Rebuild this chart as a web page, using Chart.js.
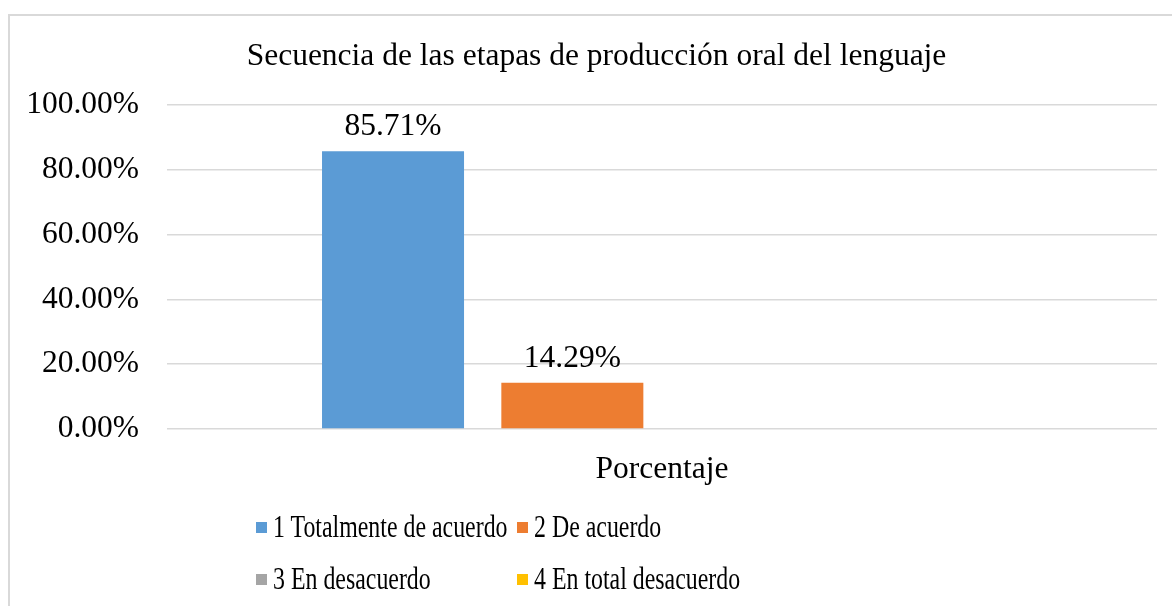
<!DOCTYPE html>
<html lang="es">
<head>
<meta charset="UTF-8">
<title>Secuencia de las etapas de producción oral del lenguaje</title>
<script src="https://cdn.jsdelivr.net/npm/chart.js"></script>
<style>
    html, body { margin: 0; padding: 0; background: #fff; }
    body { width: 1172px; height: 606px; position: relative; overflow: hidden; font-family: "Liberation Serif", "Times New Roman", serif; }
    .frame { position: absolute; left: 8px; top: 14px; width: 1200px; height: 620px; border: 2px solid #d9d9d9; box-sizing: border-box; }
    #wrap { position: absolute; left: 0; top: 0; width: 1172px; height: 606px; }
    .legend { position: absolute; left: 256px; top: 506px; display: grid; grid-template-columns: 261px 300px; row-gap: 10px; font-size: 31px; color: #000; }
    .legend div { display: flex; align-items: center; height: 42px; white-space: nowrap; }
    .legend span.box { width: 11px; height: 11px; margin-right: 6px; flex: none; }
    /* legend text is squeezed sideways in the original */
    .legend span.txt { display: inline-block; transform: scaleX(0.77); transform-origin: left center; }
</style>
</head>
<body>
<div class="frame"></div>
<div id="wrap"><canvas id="chart" width="1172" height="606"></canvas></div>
<div class="legend" id="legend"></div>

<script>
    const chartTitle = 'Secuencia de las etapas de producción oral del lenguaje';
    const categories = ['Porcentaje'];
    const seriesNames = ['1 Totalmente de acuerdo', '2 De acuerdo', '3 En desacuerdo', '4 En total desacuerdo'];
    const seriesColors = ['#5b9bd5', '#ed7d31', '#a5a5a5', '#ffc000'];
    const totalmente = [85.71];
    const deAcuerdo = [14.29];
    const enDesacuerdo = [null];
    const totalDesacuerdo = [null];
    const yTicks = [0, 20, 40, 60, 80, 100];

    const seriesValues = [totalmente, deAcuerdo, enDesacuerdo, totalDesacuerdo];
    const serif = '"Liberation Serif", "Times New Roman", serif';
    const fontSize = 31.5;

    // value labels above the bars
    const barLabels = {
        id: 'barLabels',
        afterDatasetsDraw(chart) {
            const ctx = chart.ctx;
            ctx.save();
            ctx.font = fontSize + 'px ' + serif;
            ctx.fillStyle = '#000';
            ctx.textAlign = 'center';
            ctx.textBaseline = 'alphabetic';
            chart.data.datasets.forEach((ds, i) => {
                const meta = chart.getDatasetMeta(i);
                meta.data.forEach((bar, j) => {
                    const v = ds.data[j];
                    if (v === null || v === undefined) return;
                    ctx.fillText(v.toFixed(2) + '%', bar.x, bar.y - 16);
                });
            });
            ctx.restore();
        }
    };

    // title in the original is centred on the whole frame, not the canvas
    const titleShift = {
        id: 'titleShift',
        afterLayout(chart) {
            if (chart.titleBlock) chart.titleBlock.left = 36;
        }
    };

    new Chart(document.getElementById('chart').getContext('2d'), {
        type: 'bar',
        data: {
            labels: categories,
            datasets: seriesNames.map((name, i) => ({
                label: name,
                data: seriesValues[i],
                backgroundColor: seriesColors[i],
                categoryPercentage: 0.7245,
                barPercentage: 0.792
            }))
        },
        options: {
            responsive: false,
            animation: false,
            layout: { padding: { left: 0, right: 15, top: 0, bottom: 0 } },
            plugins: {
                legend: { display: false },
                tooltip: { enabled: false },
                title: {
                    display: true,
                    text: chartTitle,
                    color: '#000',
                    font: { family: serif, size: fontSize, weight: 'normal' },
                    padding: { top: 38, bottom: 29 }
                }
            },
            scales: {
                x: {
                    grid: { display: false },
                    border: { display: false },
                    ticks: { color: '#000', font: { family: serif, size: fontSize }, padding: 14 },
                    afterFit(scale) { scale.height = 177; }
                },
                y: {
                    min: 0,
                    max: 100,
                    afterBuildTicks(scale) { scale.ticks = yTicks.map(v => ({ value: v })); },
                    grid: { color: '#d9d9d9', lineWidth: 1.5, drawTicks: false },
                    border: { display: false },
                    ticks: {
                        color: '#000',
                        font: { family: serif, size: fontSize },
                        padding: 28,
                        callback: v => v.toFixed(2) + '%'
                    },
                    afterFit(scale) { scale.width = 167; }
                }
            }
        },
        plugins: [barLabels, titleShift]
    });

    const legend = document.getElementById('legend');
    seriesNames.forEach((name, i) => {
        const item = document.createElement('div');
        item.innerHTML = '<span class="box" style="background:' + seriesColors[i] + '"></span><span class="txt">' + name + '</span>';
        legend.appendChild(item);
    });
</script>
</body>
</html>
